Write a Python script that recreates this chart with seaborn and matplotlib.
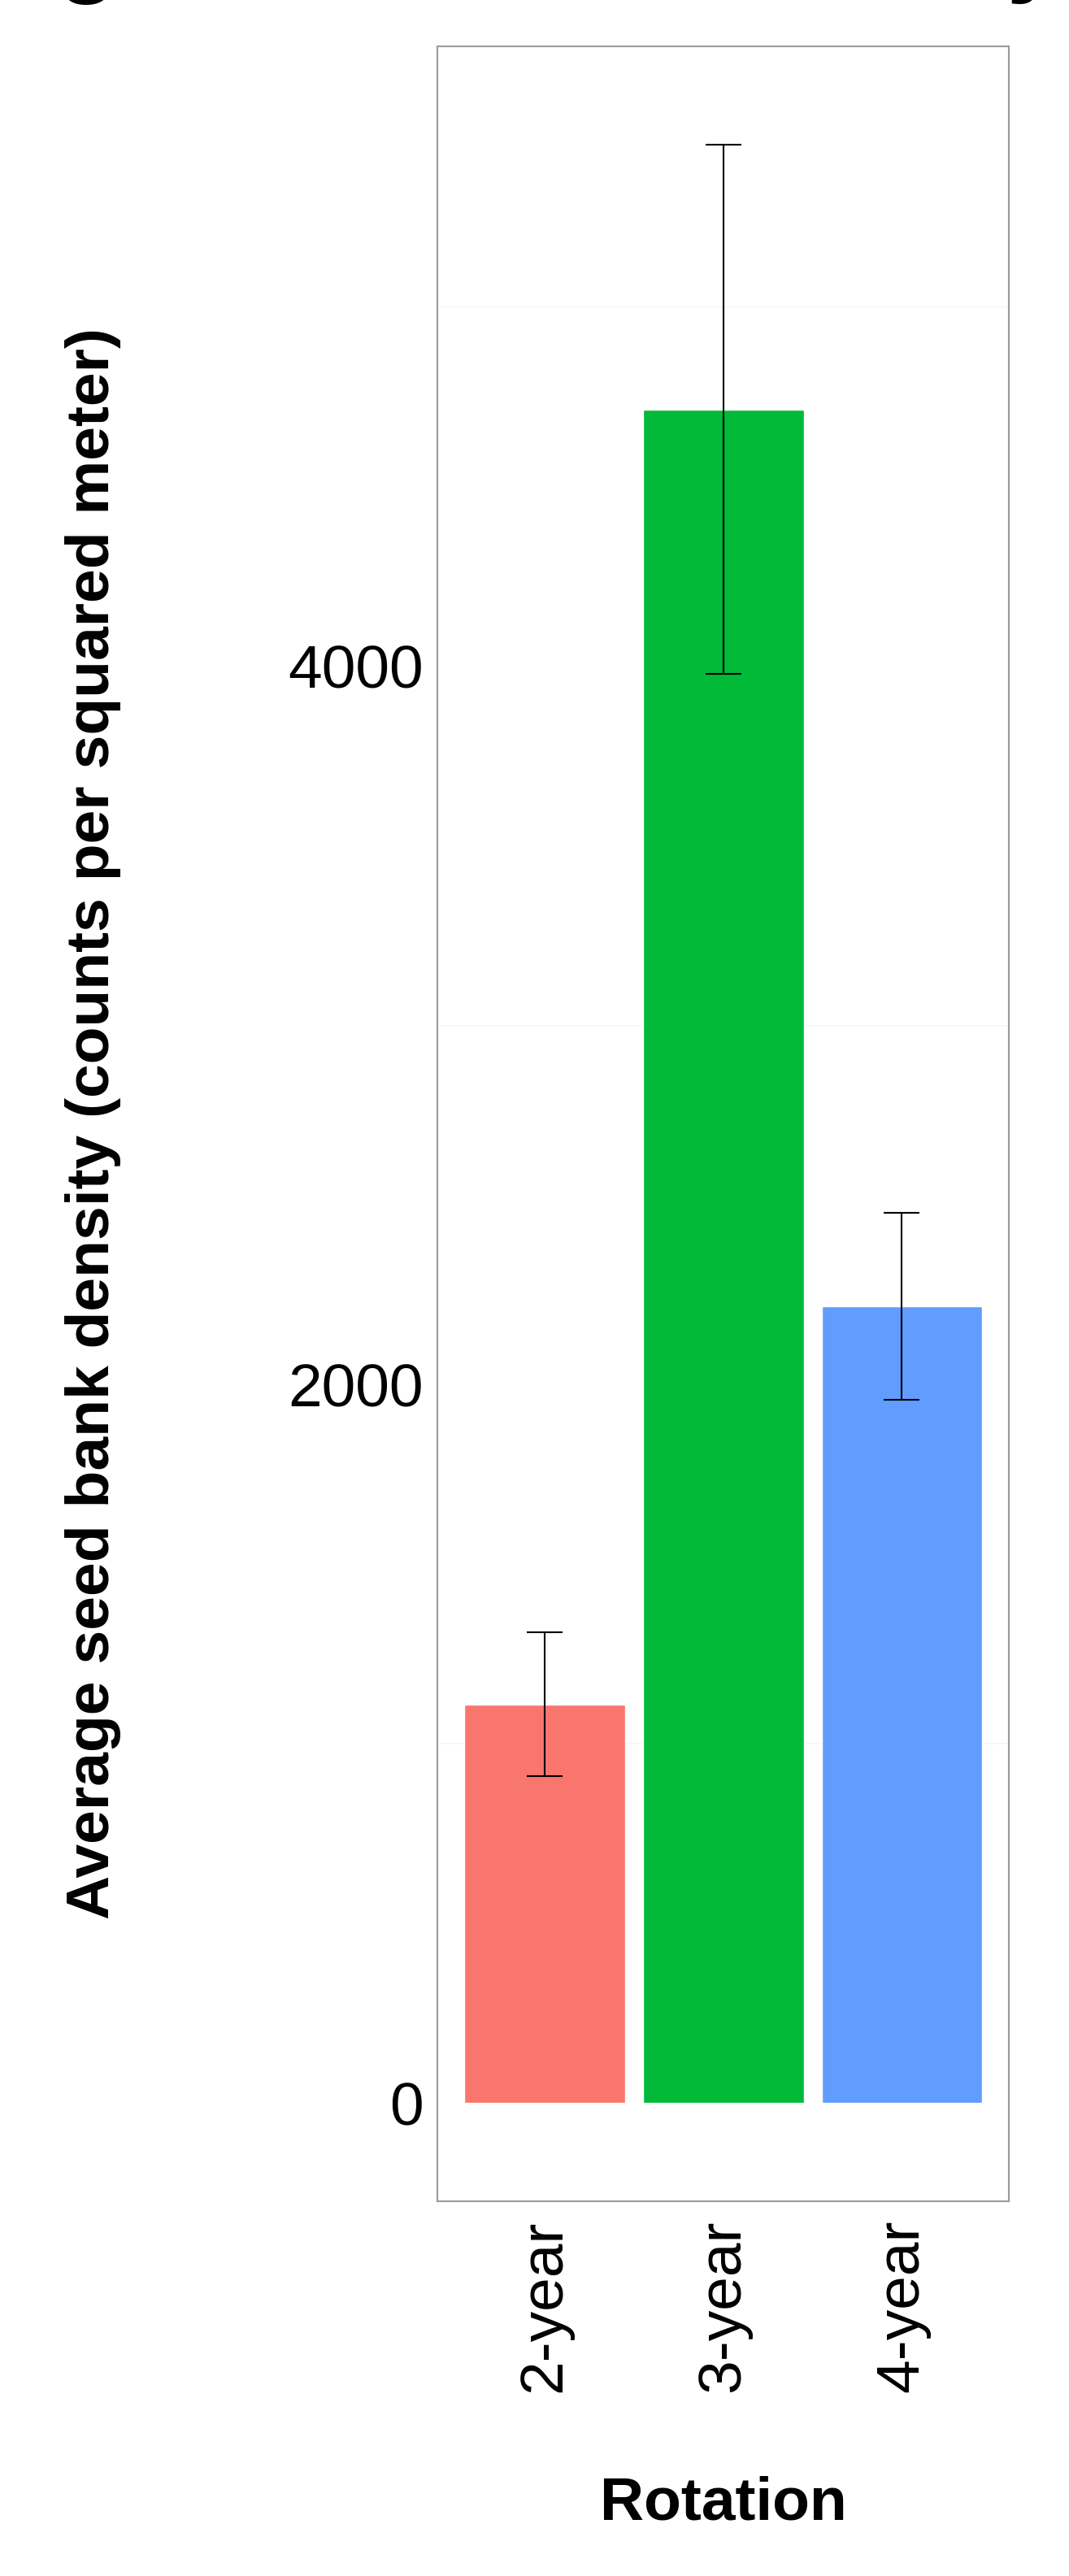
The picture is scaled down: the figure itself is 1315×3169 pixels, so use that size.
import matplotlib
matplotlib.use("Agg")
import matplotlib.pyplot as plt
import seaborn as sns
import pandas as pd

# values
rotations = ["2-year", "3-year", "4-year"]
mean_density = [1110, 4715, 2219]
se_density = [200, 737, 260]
bar_colors = ["#F8766D", "#00BA38", "#619CFF"]
y_ticks = [0, 2000, 4000]
minor_grid = [1000, 3000, 5000]

df = pd.DataFrame({"Rotation": rotations, "Density": mean_density, "SE": se_density})

sns.set_style("white")
plt.rcParams["font.family"] = ["Liberation Sans", "DejaVu Sans"]
plt.rcParams["text.color"] = "black"
plt.rcParams["axes.labelcolor"] = "black"
plt.rcParams["xtick.color"] = "black"
plt.rcParams["ytick.color"] = "black"

fig = plt.figure(figsize=(13.15, 31.69), dpi=100)
ax = fig.add_axes([0.409, 0.1455, 0.535, 0.8365])

for g in minor_grid:
    ax.axhline(g, color="#f6f6f6", lw=1.2, zorder=0)

sns.barplot(data=df, x="Rotation", y="Density", hue="Rotation", palette=bar_colors,
            width=0.9, errorbar=None, legend=False, ax=ax, saturation=1, zorder=2)

ax.errorbar(x=range(len(rotations)), y=df["Density"], yerr=df["SE"], fmt="none",
            ecolor="black", elinewidth=1.5, capsize=16, capthick=1.5, zorder=3)

ax.set_xlim(-0.6, 2.6)
ax.set_ylim(-273, 5726)
ax.set_yticks(y_ticks)
ax.set_yticklabels([str(t) for t in y_ticks])

ax.tick_params(axis="both", labelsize=54, length=7, width=1.2, color="#333333", labelcolor="black")
ax.tick_params(axis="y", pad=5)
ax.tick_params(axis="x", pad=9, labelrotation=90)

for sp in ax.spines.values():
    sp.set_visible(True)
    sp.set_color("#9a9a9a")
    sp.set_linewidth(1.5)

ax.set_xlabel("Rotation", fontsize=54, fontweight="bold", va="center", color="black")
ax.xaxis.set_label_coords(0.5, -0.1403)
ax.set_ylabel("Average seed bank density (counts per squared meter)", fontsize=54,
              fontweight="bold", va="center", color="black")
ax.yaxis.set_label_coords(-0.602, 0.5)

# title sits mostly above the canvas, only descenders show
fig.text(-265 / 1315, 1 + 20 / 3169, "Average seed bank density", fontsize=88,
         fontweight="bold", ha="left", va="baseline", color="black")

fig.savefig("out.png", dpi=100, facecolor="white")
